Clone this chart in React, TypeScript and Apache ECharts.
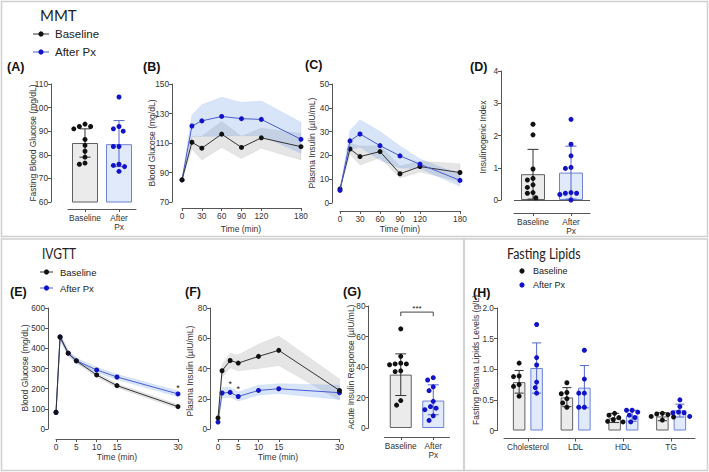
import React, { useEffect, useRef } from "react";
import * as echarts from "echarts";

// ---------------- data ----------------
const groupLabels = ["Baseline", "After\nPx"];

// (A) Fasting blood glucose (mg/dL)
const fbgBaseline = [93, 92, 92, 91, 86.5, 84, 81.5, 79, 76.5, 76];
const fbgAfter = [104.5, 92, 91, 90, 83.5, 83.5, 76, 75.5, 75, 73];
const fbgMean = [85, 84.5];
const fbgLow = [79, 75];
const fbgHigh = [91, 94.5];

// (B) MMT blood glucose (mg/dL)
const mmtTimes = [0, 15, 30, 60, 90, 120, 180];
const mmtTicks = [0, 30, 60, 90, 120, 180];
const bgBase = [85, 110.5, 106.5, 116, 107, 113.5, 107.5];
const bgBaseHi = [86, 114.5, 114.5, 124.5, 114.5, 120, 116.5];
const bgBaseLo = [84, 106, 98.5, 107, 99.5, 106.5, 98.5];
const bgAfter = [85, 121.5, 125, 128, 126.5, 126, 112.5];
const bgAfterHi = [86, 129, 136, 141, 137.5, 138.5, 124];
const bgAfterLo = [84, 114.5, 114.5, 114.5, 115, 115, 103];

// (C) MMT plasma insulin (µIU/mL)
const insBase = [5.9, 22.7, 19.5, 21.6, 12.3, 15.3, 12.8];
const insBaseHi = [6.5, 25, 24, 24, 15.5, 17.5, 16.5];
const insBaseLo = [5.3, 20.5, 16, 19, 10.5, 13, 9];
const insAfter = [5.3, 26.1, 29, 24.1, 19.8, 16.3, 9.5];
const insAfterHi = [5.8, 30.5, 35, 30, 24, 18.5, 12];
const insAfterLo = [4.8, 22.5, 23.5, 18, 14.7, 14.5, 7];

// (D) Insulinogenic index
const iiBaseline = [2.35, 2.02, 0.96, 0.67, 0.62, 0.47, 0.39, 0.23, 0.21, 0.07];
const iiAfter = [2.5, 1.73, 1.37, 1.01, 0.98, 0.23, 0.21, 0.21, 0.17, 0.0];
const iiMean = [0.8, 0.85];
const iiLow = [0.03, 0.03];
const iiHigh = [1.57, 1.67];

// (E) IVGTT blood glucose (mg/dL)
const ivTimes = [0, 1, 3, 5, 10, 15, 30];
const ivTicks = [0, 5, 10, 15, 30];
const ivBgBase = [83, 456, 376, 338, 268, 215, 111];
const ivBgBaseHi = [86, 470, 388, 349, 279, 225, 121];
const ivBgBaseLo = [80, 442, 364, 327, 257, 205, 101];
const ivBgAfter = [82, 456, 376, 338, 293, 258, 174];
const ivBgAfterHi = [85, 470, 388, 352, 306, 271, 188];
const ivBgAfterLo = [79, 442, 364, 326, 280, 245, 160];

// (F) IVGTT plasma insulin (µIU/mL)
const ivInsBase = [7.3, 38.5, 45.3, 43.6, 48, 52, 25.5];
const ivInsBaseHi = [9, 42.5, 50, 49, 56, 61.5, 33];
const ivInsBaseLo = [5.6, 34, 40.5, 38.5, 40, 42, 19];
const ivInsAfter = [4.6, 23.8, 24.2, 21.5, 25.5, 26.6, 24];
const ivInsAfterHi = [5.6, 27.5, 27.5, 24.5, 29, 30, 29];
const ivInsAfterLo = [3.6, 20.5, 21, 18.5, 22.5, 23.5, 19.5];
const ivInsStarTimes = [3, 5];

// (G) Acute insulin response (µIU/mL)
const airBaseline = [65, 47, 42.5, 42, 42, 41.5, 37.5, 37, 18, 15];
const airAfter = [33, 31.5, 27, 24.5, 17.5, 14, 13, 12, 8, 5];
const airMean = [35, 18];
const airLow = [21.3, 8.7];
const airHigh = [48.6, 28.3];

// (H) Fasting plasma lipids (g/L)
const lipidCats = ["Cholesterol", "LDL", "HDL", "TG"];
const cholBase = [1.1, 0.89, 0.88, 0.75, 0.72, 0.56];
const cholAfter = [1.73, 1.19, 1.07, 0.79, 0.7, 0.61];
const ldlBase = [0.78, 0.62, 0.6, 0.52, 0.45, 0.38];
const ldlAfter = [1.31, 0.84, 0.61, 0.61, 0.38, 0.38];
const hdlBase = [0.28, 0.25, 0.21, 0.18, 0.15, 0.14];
const hdlAfter = [0.33, 0.33, 0.3, 0.25, 0.21, 0.14];
const tgBase = [0.28, 0.27, 0.26, 0.23, 0.22, 0.17];
const tgAfter = [0.5, 0.39, 0.3, 0.29, 0.29, 0.23];
const lipMeanBase = [0.79, 0.54, 0.2, 0.23];
const lipMeanAfter = [1.02, 0.7, 0.245, 0.33];
const lipBaseLo = [0.61, 0.39, 0.13, 0.16];
const lipBaseHi = [0.98, 0.7, 0.28, 0.29];
const lipAfterLo = [0.61, 0.37, 0.15, 0.22];
const lipAfterHi = [1.43, 1.06, 0.33, 0.43];

// ---------------- styles ----------------
const BLACK = "#111111";
const BLUE = "#1212c8";
const BLUE_LINE = "#4c5cd0";
const AXIS = "#555555";
const TXT = "#333333";
const ARIAL = "'Liberation Sans', Arial, sans-serif";
const TITLE_FONT = "Lato, 'Open Sans', sans-serif";
const GRAY_BAND = "rgba(150,150,150,0.25)";
const BLUE_BAND = "rgba(100,150,230,0.25)";
const baseBar = { color: "#ebebeb", borderColor: "#606060", borderWidth: 1 };
const afterBar = { color: "#e0eafb", borderColor: "#6f82d8", borderWidth: 1 };
const ERR_BASE = "#333333";
const ERR_AFTER = "#5566cc";

const grids = [
  { left: 68, top: 84, width: 68, height: 118 }, // A
  { left: 182, top: 84, width: 119, height: 118 }, // B
  { left: 340, top: 84, width: 120, height: 119 }, // C
  { left: 514, top: 71, width: 76, height: 129 }, // D
  { left: 56, top: 308, width: 122, height: 121 }, // E
  { left: 218, top: 308, width: 121.5, height: 121 }, // F
  { left: 384.5, top: 306, width: 65, height: 122 }, // G
  { left: 504, top: 308, width: 191, height: 122.5 }, // H
];

function swarm(values: number[], ppu: number, d: number): number[] {
  const order = values.map((_, i) => i).sort((a, b) => values[b] - values[a]);
  const placed: { x: number; y: number }[] = [];
  const out = new Array(values.length).fill(0);
  const step = d / 4;
  for (const i of order) {
    const y = values[i] * ppu;
    for (let k = 0; k < 80; k++) {
      const m = Math.ceil(k / 2) * (k % 2 === 1 ? -1 : 1);
      const x = m * step;
      if (placed.every((p) => (p.x - x) ** 2 + (p.y - y) ** 2 >= d * d - 0.01)) {
        out[i] = x;
        placed.push({ x, y });
        break;
      }
    }
  }
  return out;
}

function txtStyle(text: string, size: number, extra: any = {}) {
  const align = extra.align || "left";
  const va = extra.verticalAlign || "middle";
  return {
    text,
    fill: extra.fill || TXT,
    fontSize: size,
    fontFamily: extra.fontFamily || ARIAL,
    fontWeight: extra.fontWeight || "normal",
    align,
    verticalAlign: va,
    textAlign: align,
    textVerticalAlign: va,
  };
}

function yAx(gi: number, min: number, max: number, offset: number, opts: any = {}) {
  const label: any = { color: TXT, fontSize: 8.3, fontFamily: ARIAL, margin: 3 };
  const tick: any = { show: true, length: 3, lineStyle: { color: AXIS } };
  if (opts.custom) {
    label.customValues = opts.custom;
    tick.customValues = opts.custom;
  }
  if (opts.formatter) label.formatter = opts.formatter;
  const ax: any = {
    type: "value",
    gridIndex: gi,
    min,
    max,
    offset,
    axisLine: { show: true, onZero: false, lineStyle: { color: AXIS, width: 1 } },
    axisTick: tick,
    axisLabel: label,
    splitLine: { show: false },
  };
  if (opts.interval) ax.interval = opts.interval;
  return ax;
}

function xVal(gi: number, min: number, max: number, ticks: number[], offset: number) {
  return {
    type: "value",
    gridIndex: gi,
    min,
    max,
    offset,
    axisLine: { show: true, onZero: false, lineStyle: { color: AXIS, width: 1 } },
    axisTick: { show: true, length: 3, customValues: ticks, lineStyle: { color: AXIS } },
    axisLabel: { customValues: ticks, color: TXT, fontSize: 8.3, fontFamily: ARIAL, margin: 4 },
    splitLine: { show: false },
  };
}

function xCat(gi: number, data: string[], offset: number) {
  return {
    type: "category",
    gridIndex: gi,
    data,
    offset,
    axisLine: { show: true, onZero: false, lineStyle: { color: AXIS, width: 1 } },
    axisTick: { show: true, alignWithLabel: true, length: 3, lineStyle: { color: AXIS } },
    axisLabel: { interval: 0, color: TXT, fontSize: 8.3, lineHeight: 9, fontFamily: ARIAL, margin: 4 },
    splitLine: { show: false },
  };
}

function bandSeries(gi: number, xs: number[], lo: number[], hi: number[], fill: string) {
  return {
    type: "custom",
    xAxisIndex: gi,
    yAxisIndex: gi,
    silent: true,
    z: 1,
    data: [[xs[0], lo[0]]],
    renderItem: (_p: any, api: any) => {
      const pts: number[][] = [];
      xs.forEach((x, i) => pts.push(api.coord([x, hi[i]])));
      for (let i = xs.length - 1; i >= 0; i--) pts.push(api.coord([xs[i], lo[i]]));
      return { type: "polygon", shape: { points: pts }, style: { fill, stroke: fill, lineWidth: 0.5 } };
    },
  };
}

function lineSeries(gi: number, xs: number[], ys: number[], dot: string, line: string, z: number) {
  return {
    type: "line",
    xAxisIndex: gi,
    yAxisIndex: gi,
    data: xs.map((x, i) => [x, ys[i]]),
    symbol: "circle",
    symbolSize: 5,
    showSymbol: true,
    itemStyle: { color: dot },
    lineStyle: { color: line, width: 1 },
    z,
    silent: true,
  };
}

function dotsSeries(gi: number, entries: { cat: number; values: number[] }[], ppu: number, color: string, shift: number) {
  const data: number[][] = [];
  entries.forEach((e) => {
    const dx = swarm(e.values, ppu, 5.6);
    e.values.forEach((v, i) => data.push([e.cat, v, dx[i]]));
  });
  return {
    type: "custom",
    xAxisIndex: gi,
    yAxisIndex: gi,
    silent: true,
    z: 6,
    data,
    renderItem: (p: any, api: any) => {
      const d = data[p.dataIndex];
      const c = api.coord([d[0], d[1]]);
      return { type: "circle", shape: { cx: c[0] + shift + d[2], cy: c[1], r: 2.5 }, style: { fill: color } };
    },
  };
}

function errSeries(gi: number, cats: number[], lo: number[], hi: number[], color: string, shift: number, cap: number) {
  const data = cats.map((c, i) => [c, lo[i], hi[i]]);
  return {
    type: "custom",
    xAxisIndex: gi,
    yAxisIndex: gi,
    silent: true,
    z: 5,
    data,
    renderItem: (p: any, api: any) => {
      const d = data[p.dataIndex];
      const a = api.coord([d[0], d[1]]);
      const b = api.coord([d[0], d[2]]);
      const x = a[0] + shift;
      const st = { stroke: color, lineWidth: 1 };
      return {
        type: "group",
        children: [
          { type: "line", shape: { x1: x, y1: a[1], x2: x, y2: b[1] }, style: st },
          { type: "line", shape: { x1: x - cap, y1: b[1], x2: x + cap, y2: b[1] }, style: st },
          { type: "line", shape: { x1: x - cap, y1: a[1], x2: x + cap, y2: a[1] }, style: st },
        ],
      };
    },
  };
}

function starSeries(gi: number, xs: number[], ys: number[]) {
  const data = xs.map((x, i) => [x, ys[i]]);
  return {
    type: "custom",
    xAxisIndex: gi,
    yAxisIndex: gi,
    silent: true,
    z: 7,
    data,
    renderItem: (p: any, api: any) => {
      const d = data[p.dataIndex];
      const c = api.coord(d);
      return { type: "text", x: c[0], y: c[1] - 3, style: txtStyle("*", 9, { align: "center", fill: "#222" }) };
    },
  };
}

function pickAt(times: number[], vals: number[], want: number[]) {
  return want.map((t) => vals[times.indexOf(t)]);
}

function buildOption() {
  const sigLevel = 76;
  const series: any[] = [
    // A
    {
      type: "bar", xAxisIndex: 0, yAxisIndex: 0, barWidth: 26, z: 2, silent: true,
      data: fbgMean.map((m, i) => ({ value: m, itemStyle: i === 0 ? baseBar : afterBar })),
    },
    errSeries(0, [0], [fbgLow[0]], [fbgHigh[0]], ERR_BASE, 0, 5.5),
    errSeries(0, [1], [fbgLow[1]], [fbgHigh[1]], ERR_AFTER, 0, 5.5),
    dotsSeries(0, [{ cat: 0, values: fbgBaseline }], 118 / 50, BLACK, 0),
    dotsSeries(0, [{ cat: 1, values: fbgAfter }], 118 / 50, BLUE, 0),
    // B
    bandSeries(1, mmtTimes, bgBaseLo, bgBaseHi, GRAY_BAND),
    bandSeries(1, mmtTimes, bgAfterLo, bgAfterHi, BLUE_BAND),
    lineSeries(1, mmtTimes, bgAfter, BLUE, BLUE_LINE, 3),
    lineSeries(1, mmtTimes, bgBase, BLACK, "#333", 4),
    // C
    bandSeries(2, mmtTimes, insBaseLo, insBaseHi, GRAY_BAND),
    bandSeries(2, mmtTimes, insAfterLo, insAfterHi, BLUE_BAND),
    lineSeries(2, mmtTimes, insBase, BLACK, "#333", 3),
    lineSeries(2, mmtTimes, insAfter, BLUE, BLUE_LINE, 4),
    // D
    {
      type: "bar", xAxisIndex: 3, yAxisIndex: 3, barWidth: 24, z: 2, silent: true,
      data: iiMean.map((m, i) => ({ value: m, itemStyle: i === 0 ? baseBar : afterBar })),
      markLine: {
        silent: true, symbol: "none", label: { show: false },
        lineStyle: { color: AXIS, type: "solid", width: 1 },
        data: [{ yAxis: 0 }],
      },
    },
    errSeries(3, [0], [iiLow[0]], [iiHigh[0]], ERR_BASE, 0, 5.5),
    errSeries(3, [1], [iiLow[1]], [iiHigh[1]], ERR_AFTER, 0, 5.5),
    dotsSeries(3, [{ cat: 0, values: iiBaseline }], 129 / 4, BLACK, 0),
    dotsSeries(3, [{ cat: 1, values: iiAfter }], 129 / 4, BLUE, 0),
    // E
    bandSeries(4, ivTimes, ivBgBaseLo, ivBgBaseHi, GRAY_BAND),
    bandSeries(4, ivTimes, ivBgAfterLo, ivBgAfterHi, BLUE_BAND),
    lineSeries(4, ivTimes, ivBgAfter, BLUE, BLUE_LINE, 3),
    lineSeries(4, ivTimes, ivBgBase, BLACK, "#333", 4),
    starSeries(4, [30], pickAt(ivTimes, ivBgAfterHi, [30])),
    // F
    bandSeries(5, ivTimes, ivInsBaseLo, ivInsBaseHi, GRAY_BAND),
    bandSeries(5, ivTimes, ivInsAfterLo, ivInsAfterHi, BLUE_BAND),
    lineSeries(5, ivTimes, ivInsAfter, BLUE, BLUE_LINE, 3),
    lineSeries(5, ivTimes, ivInsBase, BLACK, "#333", 4),
    starSeries(5, ivInsStarTimes, pickAt(ivTimes, ivInsAfterHi, ivInsStarTimes)),
    // G
    {
      type: "bar", xAxisIndex: 6, yAxisIndex: 6, barWidth: 22, z: 2, silent: true,
      data: airMean.map((m, i) => ({ value: m, itemStyle: i === 0 ? baseBar : afterBar })),
    },
    errSeries(6, [0], [airLow[0]], [airHigh[0]], ERR_BASE, 0, 5.5),
    errSeries(6, [1], [airLow[1]], [airHigh[1]], ERR_AFTER, 0, 5.5),
    dotsSeries(6, [{ cat: 0, values: airBaseline }], 122 / 80, BLACK, 0),
    dotsSeries(6, [{ cat: 1, values: airAfter }], 122 / 80, BLUE, 0),
    {
      type: "custom", xAxisIndex: 6, yAxisIndex: 6, silent: true, z: 7,
      data: [[0, sigLevel]],
      renderItem: (_p: any, api: any) => {
        const a = api.coord([0, sigLevel]);
        const b = api.coord([1, sigLevel]);
        return {
          type: "group",
          children: [
            {
              type: "polyline",
              shape: { points: [[a[0], a[1] + 4], [a[0], a[1]], [b[0], b[1]], [b[0], b[1] + 4]] },
              style: { stroke: "#444", lineWidth: 1, fill: "none" },
            },
            { type: "text", x: (a[0] + b[0]) / 2, y: a[1] - 4, style: txtStyle("***", 8, { align: "center", fill: "#222" }) },
          ],
        };
      },
    },
    // H
    {
      type: "bar", xAxisIndex: 7, yAxisIndex: 7, barWidth: 12.5, barGap: "40%", z: 2, silent: true,
      data: lipMeanBase, itemStyle: baseBar,
    },
    {
      type: "bar", xAxisIndex: 7, yAxisIndex: 7, barWidth: 12.5, barGap: "40%", z: 2, silent: true,
      data: lipMeanAfter, itemStyle: afterBar,
    },
    errSeries(7, [0, 1, 2, 3], lipBaseLo, lipBaseHi, ERR_BASE, -8.75, 4.5),
    errSeries(7, [0, 1, 2, 3], lipAfterLo, lipAfterHi, ERR_AFTER, 8.75, 4.5),
    dotsSeries(7, [cholBase, ldlBase, hdlBase, tgBase].map((v, i) => ({ cat: i, values: v })), 122.5 / 2, BLACK, -8.75),
    dotsSeries(7, [cholAfter, ldlAfter, hdlAfter, tgAfter].map((v, i) => ({ cat: i, values: v })), 122.5 / 2, BLUE, 8.75),
  ];

  const xAxis = [
    xCat(0, groupLabels, 7),
    xVal(1, 0, 180, mmtTicks, 6),
    xVal(2, 0, 180, mmtTicks, 8),
    xCat(3, groupLabels, 13),
    xVal(4, 0, 30, ivTicks, 10),
    xVal(5, 0, 30, ivTicks, 10),
    xCat(6, groupLabels, 9),
    xCat(7, lipidCats, 8),
  ];
  const yAxis = [
    yAx(0, 60, 110, 17, { interval: 10 }),
    yAx(1, 70, 150, 10, { custom: [70, 90, 110, 130, 150] }),
    yAx(2, 0, 50, 8, { interval: 10 }),
    yAx(3, 0, 4, 13, { interval: 1 }),
    yAx(4, 0, 600, 8, { interval: 100 }),
    yAx(5, 0, 80, 8, { interval: 20 }),
    yAx(6, 0, 80, 16, { interval: 20 }),
    yAx(7, 0, 2, 7, { interval: 0.5, formatter: (v: number) => (v === 0 ? "0" : v.toFixed(1)) }),
  ];

  const border = { fill: "none", stroke: "#cfcfcf", lineWidth: 1.5 };
  const T = (x: number, y: number, text: string, size: number, extra: any = {}) => ({
    type: "text", x, y, rotation: extra.rotation || 0, scaleX: extra.scaleX || 1, z: 10,
    style: txtStyle(text, size, extra),
  });
  const V = (x: number, y: number, text: string) =>
    T(x, y, text, 8.5, { rotation: Math.PI / 2, align: "center" });
  const legendLine = (x1: number, x2: number, y: number, color: string, dot: string) => [
    { type: "line", shape: { x1, y1: y, x2, y2: y }, style: { stroke: color, lineWidth: 1 }, z: 10 },
    { type: "circle", shape: { cx: (x1 + x2) / 2, cy: y, r: 2.6 }, style: { fill: dot }, z: 10 },
  ];
  const bold = { fontWeight: "bold", fill: "#111" };
  const title = { fontFamily: TITLE_FONT, fill: "#222" };

  const graphic: any[] = [
    { type: "rect", shape: { x: 1.5, y: 1.5, width: 706, height: 235 }, style: border, z: 0 },
    { type: "rect", shape: { x: 1.5, y: 239, width: 462.5, height: 231.5 }, style: border, z: 0 },
    { type: "rect", shape: { x: 464, y: 239, width: 243.5, height: 231.5 }, style: border, z: 0 },
    // MMT header
    T(40, 15, "MMT", 15, title),
    ...legendLine(33, 49, 34, "#333", BLACK),
    T(55, 34, "Baseline", 11.5, { fill: "#222" }),
    ...legendLine(33, 49, 52, BLUE_LINE, BLUE),
    T(55, 52, "After Px", 11.5, { fill: "#222" }),
    T(7, 67, "(A)", 12.5, bold),
    T(143, 67, "(B)", 12.5, bold),
    T(305, 65, "(C)", 12.5, bold),
    T(470, 67, "(D)", 12.5, bold),
    V(33, 143, "Fasting Blood Glucose (mg/dL)"),
    V(152, 143, "Blood Glucose (mg/dL)"),
    V(312, 143, "Plasma Insulin (µIU/mL)"),
    V(483, 137, "Insulinogenic Index"),
    T(241, 229, "Time (min)", 8.5, { align: "center" }),
    T(400, 229, "Time (min)", 8.5, { align: "center" }),
    // IVGTT header
    T(42, 253, "IVGTT", 15, { ...title, scaleX: 0.8 }),
    ...legendLine(40, 53, 272, "#333", BLACK),
    T(60, 272, "Baseline", 9.5, { fill: "#222" }),
    ...legendLine(40, 53, 288, BLUE_LINE, BLUE),
    T(60, 288, "After Px", 9.5, { fill: "#222" }),
    T(10, 292, "(E)", 12.5, bold),
    T(185, 292, "(F)", 12.5, bold),
    T(343, 292, "(G)", 12.5, bold),
    V(25, 368, "Blood Glucose (mg/dL)"),
    V(190, 371, "Plasma Insulin (µIU/mL)"),
    V(351, 367, "Acute Insulin Response (µIU/mL)"),
    T(117, 457, "Time (min)", 8.5, { align: "center" }),
    T(278, 457, "Time (min)", 8.5, { align: "center" }),
    // Fasting lipids header
    T(507, 253, "Fasting Lipids", 15, { ...title, scaleX: 0.83 }),
    { type: "circle", shape: { cx: 522, cy: 271, r: 2.6 }, style: { fill: BLACK }, z: 10 },
    T(533, 271, "Baseline", 9, { fill: "#222" }),
    { type: "circle", shape: { cx: 522, cy: 285, r: 2.6 }, style: { fill: BLUE }, z: 10 },
    T(533, 285, "After Px", 9, { fill: "#222" }),
    T(473, 293, "(H)", 12.5, bold),
    V(476, 360, "Fasting Plasma Lipids Levels (g/L)"),
  ];

  return {
    animation: false,
    backgroundColor: "#ffffff",
    textStyle: { fontFamily: ARIAL },
    grid: grids.map((g) => ({ ...g, containLabel: false })),
    xAxis,
    yAxis,
    series,
    graphic,
  };
}

export default function App() {
  const ref = useRef<HTMLDivElement>(null);
  useEffect(() => {
    const chart = echarts.init(ref.current!, null, { renderer: "svg" });
    chart.setOption(buildOption() as any);
    return () => chart.dispose();
  }, []);
  return (
    <div
      ref={ref}
      style={{ position: "absolute", left: 0, top: 0, width: 709, height: 472, background: "#fff" }}
    />
  );
}
